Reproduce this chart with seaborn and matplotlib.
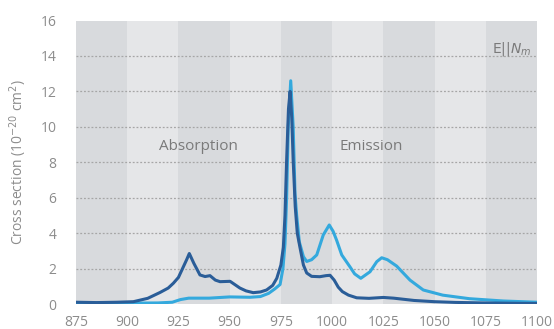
import numpy as np
import pandas as pd
import matplotlib
matplotlib.use("Agg")
import matplotlib.pyplot as plt
import seaborn as sns

# ---------------------------------------
# Data (wavelength in nm, cross section in 1e-20 cm^2)
# ---------------------------------------

abs_wl = [875, 885, 895, 903, 910, 916, 920, 922.5, 925, 927.4, 929, 930.3, 932.5,
          935.5, 938, 940.4, 943, 945.3, 950.2, 955, 958, 961.5, 965, 968, 971, 973,
          975, 976.2, 977, 977.8, 978.7, 979.5, 980.3, 981, 982, 983, 984.3, 986,
          987.6, 990, 994, 997, 999, 1001, 1003, 1005, 1008, 1012, 1018, 1025, 1030,
          1040, 1050, 1060, 1075, 1090, 1100]
abs_cs = [0.1, 0.08, 0.1, 0.13, 0.32, 0.65, 0.9, 1.17, 1.5, 2.1, 2.5, 2.85, 2.3,
          1.64, 1.55, 1.6, 1.35, 1.26, 1.28, 0.9, 0.74, 0.64, 0.68, 0.79, 1.05, 1.45,
          2.2, 3.2, 5.0, 8.1, 11.0, 12.0, 10.5, 8.1, 5.5, 4.0, 3.2, 2.2,
          1.75, 1.56, 1.54, 1.6, 1.62, 1.35, 0.95, 0.7, 0.5, 0.35, 0.32, 0.37, 0.33,
          0.2, 0.13, 0.09, 0.06, 0.04, 0.03]

em_wl = [875, 900, 915, 922, 926, 930, 940, 950, 960, 965, 969, 972, 974.6, 976,
         977, 977.8, 978.6, 979.8, 981, 981.9, 982.7, 984, 986, 987.6, 990, 992.5,
         995.7, 998.6, 1000.5, 1002.2, 1004.7, 1008.7, 1011, 1014, 1018.5, 1021.8,
         1024.2, 1027, 1031.5, 1038, 1044.5, 1054, 1067, 1083.5, 1100]
em_cs = [0.05, 0.05, 0.06, 0.1, 0.25, 0.33, 0.33, 0.4, 0.38, 0.42, 0.6, 0.85, 1.1, 2.0,
         3.4, 6.0, 10.0, 12.6, 10.0, 6.2, 5.0, 3.5, 2.67, 2.4, 2.5, 2.77,
         3.9, 4.46, 4.1, 3.6, 2.77, 2.1, 1.7, 1.45, 1.82, 2.39,
         2.61, 2.5, 2.14, 1.35, 0.79, 0.5, 0.3, 0.17, 0.1]

x_ticks = [875, 900, 925, 950, 975, 1000, 1025, 1050, 1075, 1100]
y_ticks = [0, 2, 4, 6, 8, 10, 12, 14, 16]

df_abs = pd.DataFrame({"wl": abs_wl, "cs": abs_cs})
df_em = pd.DataFrame({"wl": em_wl, "cs": em_cs})

# ---------------------------------------
# Plot
# ---------------------------------------

sns.set_style("white")
plt.rcParams["font.family"] = ["Open Sans", "DejaVu Sans"]

text_grey = "#8c8c8c"
dark_band = "#d8dadd"
light_band = "#e5e6e8"

fig = plt.figure(figsize=(5.54, 3.29), dpi=100)
ax = fig.add_axes([76 / 554, 25 / 329, 461 / 554, 283.5 / 329])

# alternating background bands
for i in range(len(x_ticks) - 1):
    ax.axvspan(x_ticks[i], x_ticks[i + 1], color=dark_band if i % 2 == 0 else light_band,
               lw=0, zorder=0)

for yv in y_ticks[1:-1]:
    ax.axhline(yv, color="#a6a6a6", lw=0.9, ls=(0, (1.5, 1.5)), zorder=1)

sns.lineplot(data=df_em, x="wl", y="cs", ax=ax, color="#34a9dd", lw=2.2, zorder=3)
sns.lineplot(data=df_abs, x="wl", y="cs", ax=ax, color="#2a5d98", lw=2.2, zorder=4)

ax.set_xlim(875, 1100)
ax.set_ylim(0, 16)
ax.set_xticks(x_ticks)
ax.set_yticks(y_ticks)
ax.tick_params(axis="both", length=0, labelsize=10, colors=text_grey)
ax.tick_params(axis="x", pad=8)
ax.tick_params(axis="y", pad=14)
for s in ax.spines.values():
    s.set_visible(False)

ax.set_xlabel("")
ax.set_ylabel("Cross section (10$^{-20}$ cm$^{2}$)", fontsize=10, color=text_grey, labelpad=8)

ax.text(935, 8.9, "Absorption", ha="center", va="center", fontsize=11, color="#7a7a7a")
ax.text(1019.3, 8.9, "Emission", ha="center", va="center", fontsize=11, color="#7a7a7a")
ax.text(1097, 14.4, r"$\mathrm{E}||N_m$", ha="right", va="center", fontsize=10, color="#7a7a7a")

fig.savefig("out.png", dpi=100)
